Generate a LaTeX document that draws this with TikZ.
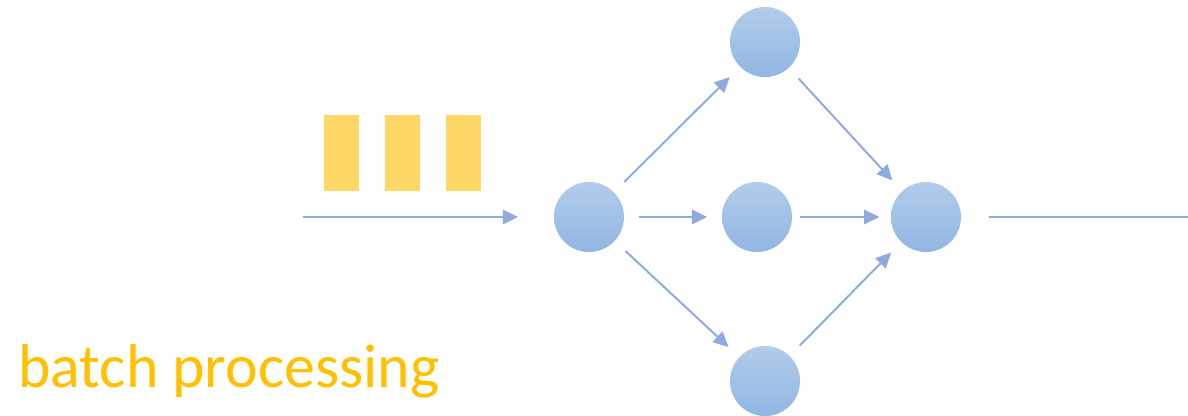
\documentclass[tikz,border=0pt]{standalone}
\usepackage{fontspec}
\setmainfont{Carlito}
\usepackage{tikz}
\usetikzlibrary{arrows.meta}
\definecolor{fletxa}{RGB}{143,170,220}
\definecolor{nodedalt}{RGB}{178,204,234}
\definecolor{nodebaix}{RGB}{145,182,227}
\definecolor{lot}{RGB}{253,216,102}
\definecolor{titol}{RGB}{255,192,0}

\begin{document}
\begin{tikzpicture}[x=0.025cm, y=-0.025cm,
    >={Triangle[length=0.38cm, width=0.36cm]},
    proc/.style={circle, minimum size=1.75cm, inner sep=0pt, outer sep=0.37cm,
        top color=nodedalt, bottom color=nodebaix, draw=none},
    flow/.style={->, fletxa, line width=1.4pt},
    paquet/.style={fill=lot, draw=none}]

\useasboundingbox (0,0) rectangle (1188,415);

% Nodes
\node[proc] (S) at (589,217) {};
\node[proc] (T) at (765,42) {};
\node[proc] (M) at (757,217) {};
\node[proc] (B) at (765,381) {};
\node[proc] (K) at (926,217) {};

% Entrada i sortida
\coordinate (in) at (303,217);
\coordinate (inend) at (518,217);
\coordinate (out) at (1188,217);
\draw[flow] (in) -- (inend);
\draw[fletxa, line width=1.4pt, shorten <=0.33cm] (K) -- (out);

% Lot de dades
\foreach \x in {324,385,446}
    \fill[paquet] (\x,115) rectangle ++(35,76);

% Fletxes
\draw[flow] (S) -- (T);
\draw[flow] (S) -- (M);
\draw[flow] (S) -- (B);
\draw[flow] (T) -- (K);
\draw[flow, shorten <=-0.17cm, shorten >=-0.08cm] (M) -- (K);
\draw[flow] (B) -- (K);

% Titol
\node[anchor=base west, inner sep=0pt, text=titol,
    font=\fontsize{44}{53}\selectfont] (label) at (18,387) {batch processing};

\end{tikzpicture}
\end{document}
